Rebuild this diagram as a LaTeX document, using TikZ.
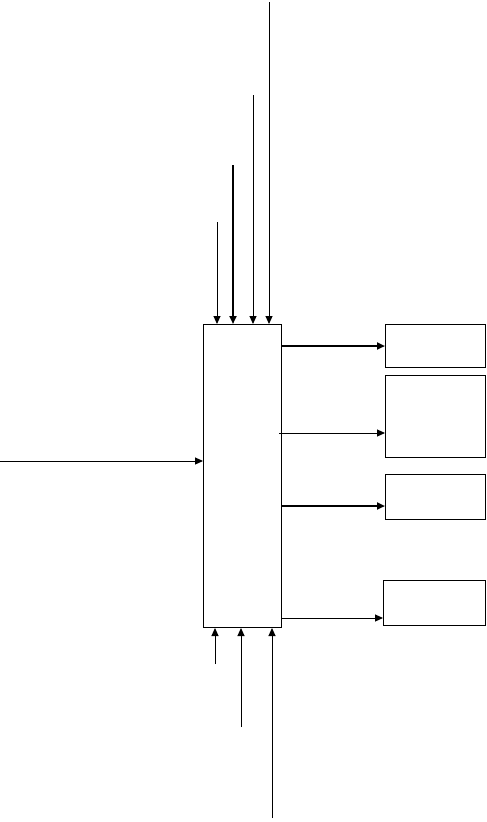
\documentclass[tikz,border=0pt]{standalone}
\usetikzlibrary{arrows.meta}
\begin{document}
\begin{tikzpicture}[x=1pt,y=-1pt,
  boxst/.style={draw=black,line width=1pt,inner sep=0pt,anchor=north west},
  arr/.style={line width=1pt,-{Triangle[length=8pt,width=7pt]}},
  arrthick/.style={line width=2pt,-{Triangle[length=8pt,width=7pt]}}]
\useasboundingbox (0,0) rectangle (487,822);
\node[boxst,minimum width=78pt,minimum height=303pt] (m) at (203,324) {};
\node[boxst,minimum width=100pt,minimum height=43pt] (b1) at (385,324) {};
\node[boxst,minimum width=100pt,minimum height=82pt] (b2) at (385,375) {};
\node[boxst,minimum width=100pt,minimum height=45pt] (b3) at (385,474) {};
\node[boxst,minimum width=102pt,minimum height=45pt] (b4) at (383,580) {};
% top inputs
\coordinate (t1) at (217,222);
\coordinate (t2) at (233,165);
\coordinate (t3) at (253,95);
\coordinate (t4) at (269,2);
\draw[arr] (t1) -- (t1 |- m.north);
\draw[arrthick] (t2) -- (t2 |- m.north);
\draw[arr] (t3) -- (t3 |- m.north);
\draw[arr] (t4) -- (t4 |- m.north);
% bottom inputs
\coordinate (u1) at (215,664);
\coordinate (u2) at (241,727);
\coordinate (u3) at (272,818);
\draw[arr] (u1) -- (u1 |- m.south);
\draw[arr] (u2) -- (u2 |- m.south);
\draw[arr] (u3) -- (u3 |- m.south);
% left input
\coordinate (l1) at (0,461);
\draw[arr] (l1) -- (l1 -| m.west);
% outputs
\coordinate (o1) at (281,346);
\coordinate (o2) at (279,433);
\coordinate (o3) at (281,506);
\coordinate (o4) at (281,618);
\draw[arrthick] (o1) -- (o1 -| b1.west);
\draw[arr] (o2) -- (o2 -| b2.west);
\draw[arrthick] (o3) -- (o3 -| b3.west);
\draw[arr] (o4) -- (o4 -| b4.west);
\end{tikzpicture}
\end{document}
